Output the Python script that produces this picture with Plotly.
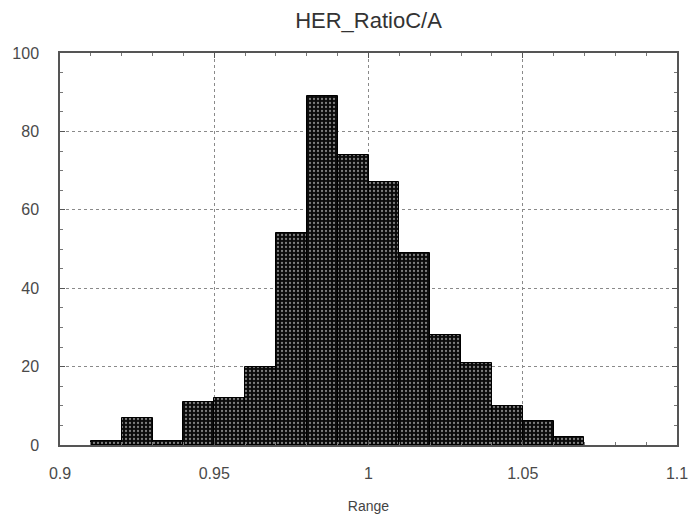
import plotly.graph_objects as go

# Histogram of HER_RatioC/A, bins of width 0.01
bin_starts = [0.91, 0.92, 0.93, 0.94, 0.95, 0.96, 0.97, 0.98,
              0.99, 1.00, 1.01, 1.02, 1.03, 1.04, 1.05, 1.06]
counts = [1, 7, 1, 11, 12, 20, 54, 89, 74, 67, 49, 28, 21, 10, 6, 2]
bin_width = 0.01

x_ticks = [0.9, 0.95, 1.0, 1.05, 1.1]
x_tick_text = ["0.9", "0.95", "1", "1.05", "1.1"]
y_ticks = [0, 20, 40, 60, 80, 100]

centers = [b + bin_width / 2 for b in bin_starts]

fig = go.Figure(go.Bar(
    x=centers,
    y=counts,
    width=[bin_width] * len(counts),
    marker=dict(
        color="#0a0a0a",
        line=dict(color="#000000", width=1),
        pattern=dict(shape=".", fgcolor="#f2f2f2", bgcolor="#0a0a0a",
                     size=4, solidity=0.25),
    ),
    showlegend=False,
))

font_family = "Liberation Sans, Arial, sans-serif"
axis_font = dict(family=font_family, size=16, color="#4a4a4a")

fig.update_layout(
    width=693,
    height=514,
    margin=dict(l=60, r=16, t=53, b=69),
    paper_bgcolor="white",
    plot_bgcolor="white",
    bargap=0,
    title=dict(
        text="HER_RatioC/A",
        x=0.5, xref="paper",
        y=0.961, yref="container", yanchor="middle",
        font=dict(family=font_family, size=22, color="#333333"),
    ),
    xaxis=dict(
        range=[0.9, 1.1],
        automargin=False,
        tickvals=x_ticks,
        ticktext=x_tick_text,
        ticks="inside", ticklen=5, tickcolor="#555555",
        tickfont=axis_font,
        ticklabelstandoff=13,
        showgrid=True, gridcolor="#8a8a8a", griddash="dot", gridwidth=1,
        showline=True, linecolor="#555555", linewidth=1.5, mirror="allticks",
        zeroline=False,
        minor=dict(dtick=0.01, ticks="inside", ticklen=3, tickcolor="#777777", showgrid=False),
        title=dict(text="Range", font=dict(family=font_family, size=14, color="#444444"),
                   standoff=20),
    ),
    yaxis=dict(
        range=[0, 100],
        automargin=False,
        tickvals=y_ticks,
        ticks="inside", ticklen=5, tickcolor="#555555",
        tickfont=axis_font,
        ticklabelstandoff=16,
        showgrid=True, gridcolor="#8a8a8a", griddash="dot", gridwidth=1,
        showline=True, linecolor="#555555", linewidth=1.5, mirror="allticks",
        zeroline=False,
        minor=dict(dtick=5, ticks="inside", ticklen=3, tickcolor="#777777", showgrid=False),
    ),
)

fig.write_html("out.html")
